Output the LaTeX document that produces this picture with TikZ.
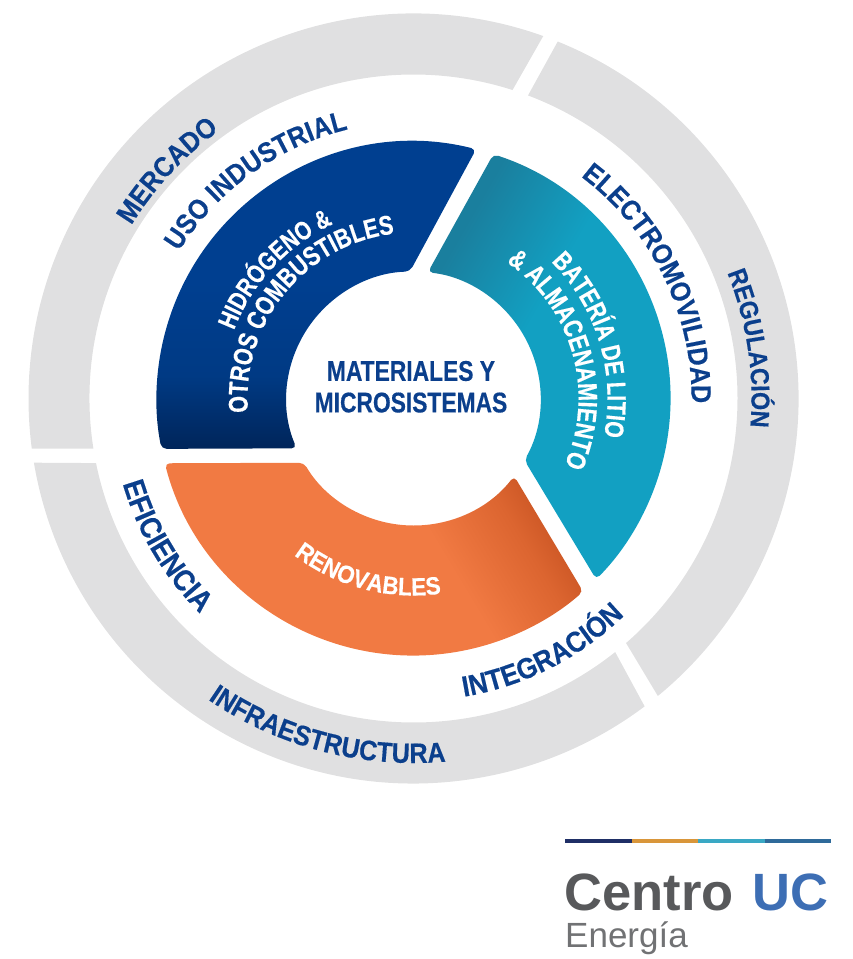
\documentclass[tikz,border=0pt]{standalone}
\usepackage{fontspec}
\setmainfont{Liberation Sans}
\newfontfamily\condfont[FakeStretch=0.9,FakeBold=0.4]{Liberation Sans}
\newfontfamily\narrowfont[FakeStretch=0.8,FakeBold=0.4]{Liberation Sans}
\usetikzlibrary{decorations.text,positioning}

\definecolor{ucblue}{HTML}{0B3F8C}
\definecolor{ringgray}{HTML}{E0E0E1}
\definecolor{logogray}{HTML}{58595B}
\definecolor{logoblue}{HTML}{3D6EB4}
\definecolor{bluedark}{HTML}{00255A}
\definecolor{bluemid}{HTML}{003A84}
\definecolor{bluetop}{HTML}{003F90}
\definecolor{tealdark}{HTML}{1A7F9E}
\definecolor{tealmain}{HTML}{12A0C2}
\definecolor{orangedark}{HTML}{C24E1E}
\definecolor{orangemid}{HTML}{DC6530}
\definecolor{orangemain}{HTML}{F17A43}

\pgfdeclareverticalshading{blueshade}{100bp}{color(0bp)=(bluedark);color(25bp)=(bluedark);color(36bp)=(bluemid);color(50bp)=(bluetop);color(100bp)=(bluetop)}
\pgfdeclareverticalshading{tealshade}{100bp}{color(0bp)=(tealmain);color(58bp)=(tealmain);color(74bp)=(tealdark);color(100bp)=(tealdark)}
\pgfdeclareverticalshading{orangeshade}{100bp}{color(0bp)=(orangemain);color(60bp)=(orangemain);color(71bp)=(orangemid);color(79bp)=(orangedark);color(100bp)=(orangedark)}

% radius, middle angle, half span (negative runs clockwise), colour, font, text
\newcommand{\arclabel}[6]{
\pgfmathsetmacro{\arcfrom}{#2-#3}
\pgfmathsetmacro{\arcto}{#2+#3}
\path[decorate,decoration={text along path,text align=center,text color=#4,
  text={|#5|#6}}]
  (\arcfrom:#1) arc[start angle=\arcfrom,end angle=\arcto,radius=#1];
}
\newcommand{\ringfont}[1]{\condfont\bfseries\fontsize{#1}{#1}\selectfont}
\newcommand{\secfont}[1]{\narrowfont\bfseries\fontsize{#1}{#1}\selectfont}

\tikzset{
  ringseg/.style={fill=ringgray},
  sector/.style={rounded corners=5pt},
  centertext/.style={text=ucblue,font=\secfont{28.5},inner sep=0pt},
  logotext/.style={anchor=base west,inner sep=0pt,font=\bfseries\fontsize{52.5}{52.5}\selectfont}
}

\begin{document}
\begin{tikzpicture}[x=1pt,y=1pt]
\useasboundingbox (-413.5,-560.5) rectangle (439.5,398.5);

\pgfmathsetmacro{\ringout}{385}
\pgfmathsetmacro{\ringin}{324}
\pgfmathsetmacro{\secout}{257}
\pgfmathsetmacro{\secin}{127}

% outer ring
\fill[ringseg] (70.3:\ringout) arc[start angle=70.3,end angle=187.5,radius=\ringout] -- (188.9:\ringin) arc[start angle=188.9,end angle=72.2,radius=\ringin] -- cycle;
\fill[ringseg] (68:\ringout) arc[start angle=68,end angle=-50.6,radius=\ringout] -- (-49:\ringin) arc[start angle=-49,end angle=69.3,radius=\ringin] -- cycle;
\fill[ringseg] (189.6:\ringout) arc[start angle=189.6,end angle=306.9,radius=\ringout] -- (308.5:\ringin) arc[start angle=308.5,end angle=191.5,radius=\ringin] -- cycle;

% sectors
\shade[sector,shading=blueshade] (75.9:\secout) arc[start angle=75.9,end angle=191.3,radius=\secout] -- (203.1:\secin) arc[start angle=203.1,end angle=91.6,radius=\secin] -- cycle;
\shade[sector,shading=tealshade,shading angle=60] (71.9:\secout) arc[start angle=71.9,end angle=-44.7,radius=\secout] -- (-29.1:\secin) arc[start angle=-29.1,end angle=83.5,radius=\secin] -- cycle;
\shade[sector,shading=orangeshade,shading angle=-59] (194.6:\secout) arc[start angle=194.6,end angle=311.3,radius=\secout] -- (322.4:\secin) arc[start angle=322.4,end angle=210.4,radius=\secin] -- cycle;

% ring labels
\arclabel{331}{137.2}{-18}{ucblue}{\ringfont{28}}{MERCADO}
\arclabel{338}{8.5}{-20}{ucblue}{\ringfont{26}}{REGULACIÓN}
\arclabel{364.5}{255.4}{27}{ucblue}{\ringfont{28}}{INFRAESTRUCTURA}

% labels between ring and sectors
\arclabel{278}{26}{-33}{ucblue}{\ringfont{28}}{ELECTROMOVILIDAD}
\arclabel{277}{125.8}{-27}{ucblue}{\ringfont{28}}{USO INDUSTRIAL}
\arclabel{303}{210.8}{22}{ucblue}{\ringfont{30}}{EFICIENCIA}
\arclabel{302.5}{-63.1}{24}{ucblue}{\ringfont{29}}{INTEGRACIÓN}

% labels on sectors
\arclabel{192}{137}{-35}{white}{\secfont{26}}{HIDRÓGENO {\&}}
\arclabel{166}{140.7}{-55}{white}{\secfont{27}}{OTROS COMBUSTIBLES}
\arclabel{194}{16.8}{-40}{white}{\secfont{26.5}}{BATERÍA DE LITIO}
\arclabel{165}{15.9}{-50}{white}{\secfont{27}}{{\&} ALMACENAMIENTO}
\arclabel{197}{255.4}{35}{white}{\ringfont{25}}{RENOVABLES}

\node[centertext] (materiales) at (-2.5,27.5) {MATERIALES Y};
\node[centertext,below=11pt of materiales] (microsistemas) {MICROSISTEMAS};

% logo
\foreach \i/\logocol in {0/1F2F66,1/D9963A,2/3AA8C4,3/2F6A9A}{
  \definecolor{logoline}{HTML}{\logocol}
  \draw[logoline,line width=3.5pt] (151.5+66.5*\i,-442.5) -- ++(66.5,0);
}
\node[logotext,text=logogray] (centro) at (151,-511.5) {Centro};
\node[logotext,text=logoblue] (uc) at (339,-511.5) {UC};
\node[logotext,text=logogray!85,font=\fontsize{35}{35}\selectfont] (energia) at (151.5,-549) {Energía};
\end{tikzpicture}
\end{document}
